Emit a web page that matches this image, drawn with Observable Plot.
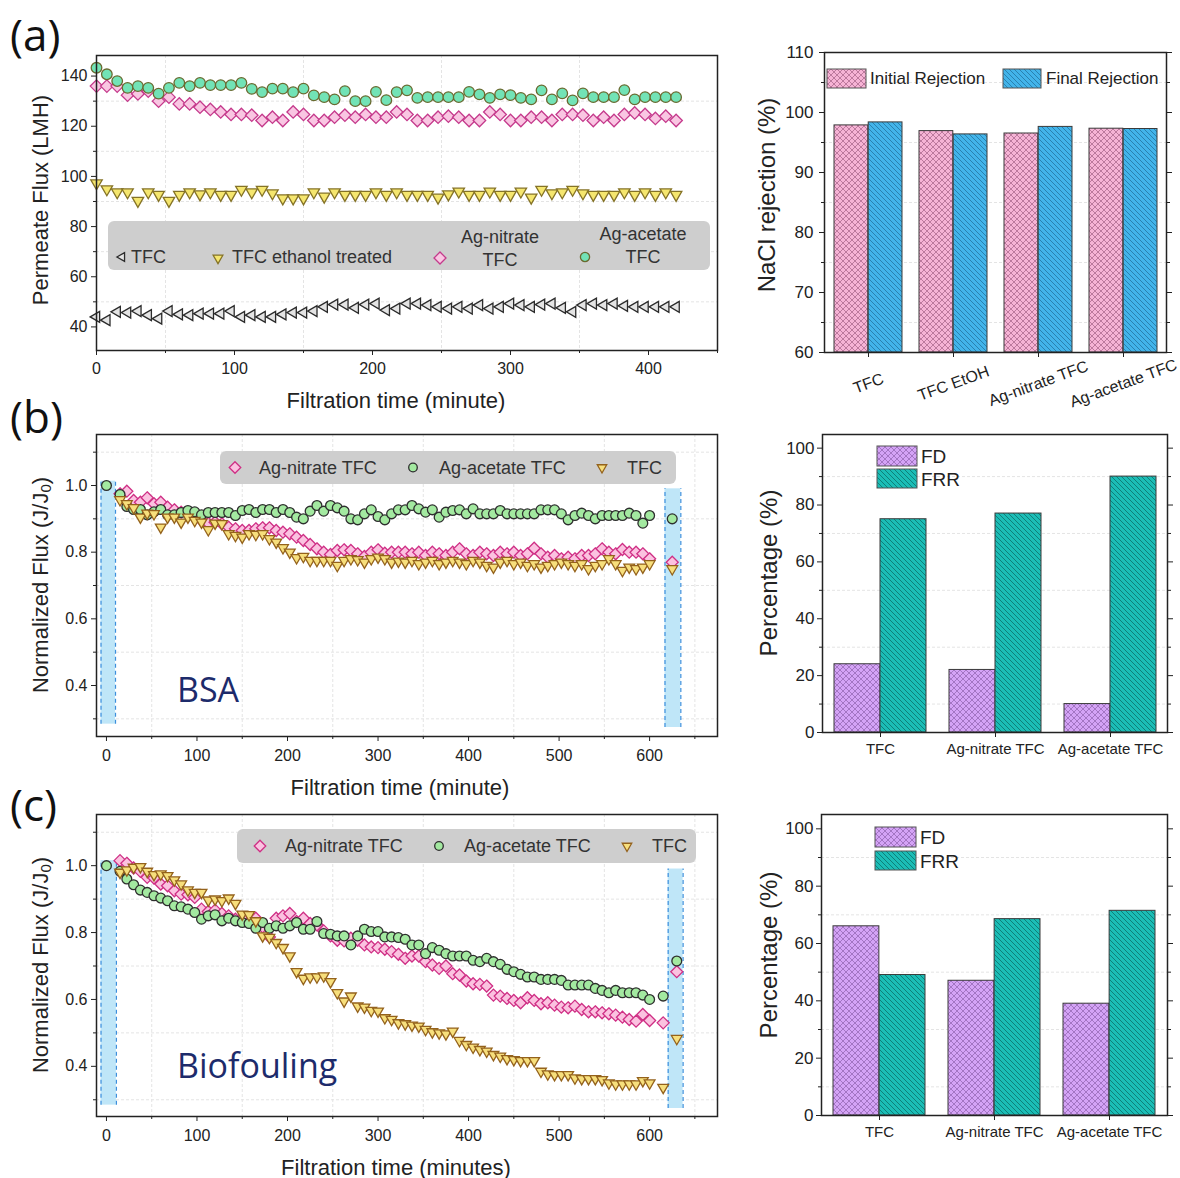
<!DOCTYPE html>
<html><head><meta charset="utf-8">
<script src="https://cdn.jsdelivr.net/npm/d3@7"></script>
<script src="https://cdn.jsdelivr.net/npm/@observablehq/plot@0.6"></script>
<style>
html,body{margin:0;padding:0;background:#fff;}
#root{position:relative;width:1180px;height:1178px;overflow:hidden;background:#fff;}
#root svg{position:absolute;}
</style></head><body>
<svg width="0" height="0" style="position:absolute;left:0;top:0">
 <defs>
  <pattern id="pinkX" patternUnits="userSpaceOnUse" width="6" height="6">
   <rect width="6" height="6" fill="#f6b3d5"/>
   <path d="M0,0L6,6M6,0L0,6" stroke="#ad6a8f" stroke-width="0.8"/>
  </pattern>
  <pattern id="blueDiag" patternUnits="userSpaceOnUse" width="5" height="5">
   <rect width="5" height="5" fill="#42b4ea"/>
   <path d="M0,0L5,5M-1,4L1,6M4,-1L6,1" stroke="#24739f" stroke-width="0.8"/>
  </pattern>
  <pattern id="purpleX" patternUnits="userSpaceOnUse" width="6" height="6">
   <rect width="6" height="6" fill="#d4a3f6"/>
   <path d="M0,0L6,6M6,0L0,6" stroke="#8e62ae" stroke-width="0.7"/>
  </pattern>
  <pattern id="tealDiag" patternUnits="userSpaceOnUse" width="5" height="5">
   <rect width="5" height="5" fill="#1bbdb6"/>
   <path d="M0,0L5,5M-1,4L1,6M4,-1L6,1" stroke="#0b6e6a" stroke-width="0.8"/>
  </pattern>
 </defs>
</svg>
<div id="root"></div>
<script>
// ---------------- DATA ----------------
// (a) permeate flux, time in minutes
const timeA = [0,7.5,15,22.5,30,37.5,45,52.5,60,67.5,75,82.5,90,97.5,105,112.5,120,127.5,135,142.5,150,157.5,165,172.5,180,187.5,195,202.5,210,217.5,225,232.5,240,247.5,255,262.5,270,277.5,285,292.5,300,307.5,315,322.5,330,337.5,345,352.5,360,367.5,375,382.5,390,397.5,405,412.5,420];
const fluxTFC = [44,42.7,46,45.7,46.3,44.7,43.3,46.3,45,44.7,45.3,45.3,45.3,46.3,44,44.7,44,44,45,45.7,45.7,46.3,48,48.9,48.9,47.6,48.9,49.3,46.7,47.3,
  49.3,49.3,48.7,48,47.3,48,47.3,48.7,47.3,48,49.3,48.7,48,48.9,49.3,47.6,46,48.7,49.3,48.7,49.3,48.4,48,48,48,48,48];
const fluxEtOH = [97.3,94.9,93.7,93.7,90.3,93.7,92.7,90.3,92.7,93.7,92.9,93.7,92.7,92.7,94.7,93.7,94.7,93.3,91.3,91.3,91.3,93.7,92,93.7,92.7,92.7,92.7,93.7,92.7,93.7,
  92.7,92.7,92.7,91.6,92.9,94,92.7,92.7,94,92.7,92.7,94,91.6,94.7,93.3,93.7,94.7,93.3,92.7,92.7,92.7,93.7,92.7,93.7,92.7,93.7,92.7];
const fluxNitrate = [136,136,136,132.4,132.9,134,130,131.6,128.9,128.9,127.6,126.7,125.7,124.7,124.7,124.4,122.3,123.6,122.3,125.7,124.7,122.3,122.3,123.6,124.4,123.6,124.7,123.6,123.6,125.7,
  124.7,122.3,122.3,123.6,124,123.6,122.3,122.3,125.7,124.7,122.3,122.3,123.6,123.6,122.3,124.7,124.7,124.4,122.3,123.6,122.3,124.7,125.3,124.7,123.1,124,122.3];
const fluxAcetate = [143.3,140.7,138,135.3,136,135.3,133,135.3,137.3,136,137.3,136.4,136.4,136.4,137.3,134.9,133.6,135,135,133.6,135,132.3,131.6,130.7,134,130,130,133.7,130.4,133.6,
  134.3,131.3,131.6,131.6,131.6,131.6,133.7,132.7,131.3,132.7,132.4,131.3,130.7,134.3,130.7,133.1,130.3,133.1,131.6,131.6,131.6,134.4,130.7,131.6,131.6,131.6,131.6];

// (a) NaCl rejection
const rejCats = ["TFC","TFC EtOH","Ag-nitrate TFC","Ag-acetate TFC"];
const rejInitial = [97.85,96.9,96.5,97.3];
const rejFinal = [98.35,96.35,97.6,97.25];

// (b),(c) normalized flux; regular run times
const runTimes = [15,22.5,30,37.5,45,52.5,60,67.5,75,82.5,90,97.5,105,112.5,120,127.5,135,142.5,150,157.5,
  165,172.5,180,187.5,195,202.5,210,217.5,225,232.5,240,247.5,255,262.5,270,277.5,285,292.5,300,307.5,
  315,322.5,330,337.5,345,352.5,360,367.5,375,382.5,390,397.5,405,412.5,420,427.5,435,442.5,450,457.5,
  465,472.5,480,487.5,495,502.5,510,517.5,525,532.5,540,547.5,555,562.5,570,577.5,585,592.5,600];
const bsaTime = [0, ...runTimes, 625];
const bsaNitrate = [null,
  0.975,0.983,0.955,0.95,0.963,0.945,0.95,0.935,0.927,0.92,0.915,0.905,0.895,0.887,0.89,0.885,0.875,0.87,0.865,0.865,
  0.87,0.873,0.873,0.865,0.86,0.855,0.845,0.835,0.823,0.81,0.8,0.793,0.805,0.807,0.805,0.795,0.787,0.8,0.807,0.797,0.8,0.8,
  0.8,0.795,0.8,0.79,0.8,0.795,0.79,0.8,0.81,0.795,0.79,0.8,0.795,0.79,0.8,0.795,0.8,0.79,0.795,0.812,
  0.795,0.785,0.79,0.78,0.785,0.78,0.79,0.79,0.795,0.81,0.8,0.795,0.808,0.8,0.8,0.795,0.78,
  0.77];
const bsaAcetate = [1.0,
  0.973,0.937,0.928,0.928,0.912,0.921,0.928,0.912,0.912,0.919,0.925,0.921,0.912,0.919,0.919,0.919,0.919,0.91,0.925,0.928,
  0.919,0.928,0.928,0.919,0.928,0.919,0.905,0.9,0.923,0.94,0.923,0.94,0.933,0.923,0.9,0.897,0.915,0.927,0.907,0.897,0.915,0.927,
  0.927,0.94,0.93,0.92,0.927,0.905,0.92,0.925,0.927,0.915,0.93,0.915,0.915,0.915,0.925,0.915,0.915,0.915,0.915,0.915,
  0.927,0.927,0.927,0.915,0.897,0.91,0.917,0.91,0.9,0.91,0.91,0.91,0.91,0.917,0.91,0.887,0.91,
  0.90];
const bsaTFC = [null,
  0.957,0.945,0.933,0.905,0.917,0.915,0.875,0.905,0.905,0.89,0.905,0.895,0.89,0.867,0.887,0.885,0.855,0.85,0.845,0.855,
  0.853,0.855,0.84,0.83,0.813,0.8,0.783,0.787,0.775,0.775,0.775,0.775,0.76,0.775,0.78,0.777,0.77,0.78,0.785,0.78,0.77,0.773,
  0.77,0.775,0.765,0.77,0.775,0.765,0.77,0.775,0.77,0.765,0.775,0.77,0.76,0.755,0.77,0.775,0.765,0.77,0.76,0.765,
  0.755,0.76,0.765,0.77,0.765,0.76,0.765,0.75,0.76,0.765,0.78,0.765,0.745,0.755,0.75,0.755,0.765,
  0.75];
const bioTime = [0, ...runTimes, 615, 630];
const bioNitrate = [null,
  1.015,1.007,0.993,0.983,0.965,0.963,0.945,0.94,0.925,0.915,0.913,0.905,0.87,0.863,0.867,0.857,0.85,0.84,0.843,0.833,
  0.843,0.817,0.787,0.843,0.85,0.857,0.833,0.843,0.827,0.823,0.805,0.79,0.777,0.775,0.783,0.777,0.763,0.757,0.755,0.75,0.743,0.735,
  0.723,0.73,0.73,0.713,0.703,0.693,0.7,0.677,0.673,0.655,0.647,0.645,0.64,0.613,0.61,0.603,0.597,0.59,0.605,0.597,
  0.587,0.59,0.583,0.577,0.575,0.58,0.57,0.563,0.563,0.56,0.557,0.553,0.547,0.54,0.535,0.555,0.537,
  0.53,0.683];
const bioAcetate = [1.0,
  0.983,0.96,0.943,0.927,0.92,0.91,0.903,0.895,0.88,0.877,0.87,0.86,0.84,0.85,0.853,0.835,0.843,0.835,0.83,0.827,
  0.813,0.83,0.813,0.82,0.813,0.82,0.83,0.81,0.81,0.833,0.797,0.795,0.79,0.79,0.763,0.79,0.81,0.803,0.803,0.787,0.787,0.785,
  0.78,0.763,0.763,0.737,0.755,0.747,0.737,0.73,0.73,0.73,0.717,0.713,0.723,0.713,0.705,0.69,0.683,0.675,0.667,0.667,
  0.66,0.66,0.66,0.657,0.643,0.643,0.643,0.643,0.633,0.627,0.62,0.627,0.62,0.62,0.62,0.613,0.6,
  0.61,0.715];
const bioTFC = [null,
  0.98,0.987,0.995,0.997,0.983,0.973,0.975,0.97,0.957,0.945,0.927,0.92,0.92,0.897,0.9,0.895,0.903,0.887,0.855,0.853,
  0.835,0.79,0.785,0.77,0.755,0.73,0.683,0.663,0.667,0.667,0.67,0.653,0.62,0.595,0.61,0.58,0.577,0.567,0.565,0.545,0.54,0.53,
  0.527,0.523,0.52,0.51,0.503,0.5,0.497,0.505,0.477,0.465,0.457,0.45,0.445,0.435,0.43,0.423,0.42,0.417,0.417,0.417,
  0.385,0.377,0.375,0.375,0.375,0.365,0.363,0.363,0.363,0.36,0.35,0.347,0.347,0.347,0.347,0.357,0.35,
  0.337,0.483];
// cleaning-step shaded bands (minutes, normalized flux)
const bsaBands = [{x1:-6,x2:10,y1:0.284,y2:1.013},{x1:617,x2:634.5,y1:0.274,y2:0.99}];
const bioBands = [{x1:-6,x2:11,y1:0.284,y2:1.015},{x1:620.5,x2:637,y1:0.274,y2:0.99}];

// fouling bar charts
const foulCats = ["TFC","Ag-nitrate TFC","Ag-acetate TFC"];
const bsaFD = [24,22,10];
const bsaFRR = [75,77,90];
const bioFD = [66,47,39];
const bioFRR = [49,68.5,71.4];

// ---------------- SYMBOLS ----------------
const rOf = size => Math.sqrt(size/Math.PI);
const symDiamond = {draw(c,size){const d=rOf(size)*1.2;c.moveTo(0,-d);c.lineTo(d,0);c.lineTo(0,d);c.lineTo(-d,0);c.closePath();}};
const symTriDown = {draw(c,size){const s=rOf(size)*2.2;const a=s/(2*Math.sqrt(3));c.moveTo(-s/2,-a);c.lineTo(s/2,-a);c.lineTo(0,2*a);c.closePath();}};
const symTriLeft = {draw(c,size){const s=rOf(size)*2.1;const a=s/(2*Math.sqrt(3));c.moveTo(-2*a,0);c.lineTo(a,-s/2);c.lineTo(a,s/2);c.closePath();}};
const symCircle = d3.symbolCircle;

const FF = '"Liberation Sans", Arial, Helvetica, sans-serif';
const root = document.getElementById("root");
const plotStyle = {fontFamily: FF, color: "#222", background: "transparent", overflow: "visible"};
const gridStyle = {stroke: "#e4e4e4", strokeDasharray: "3,2", strokeWidth: 1};

function place(svg, left, top){ svg.style.left = left+"px"; svg.style.top = top+"px"; root.appendChild(svg); }

function scatter(o){
  const marks = [
    Plot.ruleX(o.xGrid, gridStyle),
    Plot.ruleY(o.yGrid, gridStyle)
  ];
  if (o.bands){
    marks.push(Plot.rect(o.bands, {x1:"x1", x2:"x2", y1:"y1", y2:"y2", fill:"#bfe6f8"}));
    marks.push(Plot.ruleX(o.bands, {x:"x1", y1:"y1", y2:"y2", stroke:"#3d8fdc", strokeDasharray:"4,3", strokeWidth:1.2}));
    marks.push(Plot.ruleX(o.bands, {x:"x2", y1:"y1", y2:"y2", stroke:"#3d8fdc", strokeDasharray:"4,3", strokeWidth:1.2}));
  }
  for (const s of o.series){
    const rows = o.time.map((t,i)=>({t, v:s.values[i]})).filter(d=>d.v!=null);
    marks.push(Plot.dot(rows, {x:"t", y:"v", symbol:s.symbol, r:s.r, fill:s.fill, stroke:s.stroke, strokeWidth:1.3}));
  }
  marks.push(Plot.frame({stroke:"#222", strokeWidth:1.5}));
  marks.push(Plot.axisX(o.xMajor, {tickSize:5, tickPadding:o.xPad, fontSize:16, label:null}));
  marks.push(Plot.axisX(o.xMinor, {tickSize:3, tickFormat:()=> "", label:null}));
  marks.push(Plot.axisY(o.yMajor, {tickSize:5, tickPadding:4, fontSize:16, label:null, tickFormat:o.yFmt}));
  marks.push(Plot.axisY(o.yMinor, {tickSize:3, tickFormat:()=> "", label:null}));
  const svg = Plot.plot({
    width:o.width, height:o.height,
    marginLeft:o.mL, marginRight:o.mR, marginTop:o.mT, marginBottom:o.mB,
    x:{domain:o.xDomain}, y:{domain:o.yDomain},
    style: plotStyle, marks
  });
  place(svg, o.left, o.top);
}

function bars(o){
  const rows = o.cats.map((c,i)=>({cat:c, a:o.s1[i], b:o.s2[i]}));
  const plotW = o.width - o.mL - o.mR;
  const step = plotW / o.cats.length;
  const half = step*0.8/2;
  const y0 = o.yDomain[0];
  const marks = [
    Plot.ruleY(o.yGrid, gridStyle),
    Plot.barY(rows, {x:"cat", y1:y0, y2:"a", fill:o.fill1, stroke:"#3a3a3a", strokeWidth:1, insetLeft:0, insetRight:half}),
    Plot.barY(rows, {x:"cat", y1:y0, y2:"b", fill:o.fill2, stroke:"#3a3a3a", strokeWidth:1, insetLeft:half, insetRight:0}),
    Plot.frame({stroke:"#222", strokeWidth:1.5}),
    Plot.axisY(o.yMajor, {tickSize:5, tickPadding:o.yPad, fontSize:17, label:null}),
    Plot.axisY(o.yMinor, {tickSize:3, tickFormat:()=> "", label:null}),
    Plot.axisY(o.yMajor, {anchor:"right", tickSize:5, tickFormat:()=> "", label:null}),
    Plot.axisY(o.yMinor, {anchor:"right", tickSize:3, tickFormat:()=> "", label:null}),
    Plot.axisX(o.cats, {tickSize:5, tickFormat:()=> "", label:null}),
    Plot.text(o.cats, {x:d=>d, frameAnchor:"bottom", dy:o.labelDy, rotate:o.rotate, fontSize:o.labelSize, textAnchor:"middle", lineAnchor:"middle", fill:"#222"})
  ];
  const svg = Plot.plot({
    width:o.width, height:o.height,
    marginLeft:o.mL, marginRight:o.mR, marginTop:o.mT, marginBottom:o.mB,
    x:{domain:o.cats, paddingInner:0.2, paddingOuter:0.1},
    y:{domain:o.yDomain},
    style: plotStyle, marks
  });
  place(svg, o.left, o.top);
}

// ---------------- PANELS ----------------
// (a) left
scatter({left:0, top:0, width:720, height:400, mL:96, mR:3, mT:55, mB:50,
  xDomain:[0,450], yDomain:[30.6,148.2],
  xMajor:[0,100,200,300,400], xMinor:[50,150,250,350,450], xGrid:[50,150,250,350],
  yMajor:[40,60,80,100,120,140], yMinor:[50,70,90,110,130], yGrid:[50,70,90,110,130],
  yFmt: d3.format("d"), xPad:7, time:timeA,
  series:[
    {values:fluxTFC, symbol:symTriLeft, r:5.2, fill:"#e4e4e4", stroke:"#2b2b2b"},
    {values:fluxEtOH, symbol:symTriDown, r:5.2, fill:"#f5e66e", stroke:"#857326"},
    {values:fluxNitrate, symbol:symDiamond, r:5.2, fill:"#f9c6e2", stroke:"#c53a8c"},
    {values:fluxAcetate, symbol:symCircle, r:5.3, fill:"#72e3b6", stroke:"#6a6a30"}
  ]});
// (b) left
scatter({left:0, top:400, width:720, height:400, mL:96, mR:3, mT:34, mB:64,
  xDomain:[-11,675], yDomain:[0.247,1.153],
  xMajor:[0,100,200,300,400,500,600], xMinor:[50,150,250,350,450,550,650], xGrid:[50,150,250,350,450,550,650],
  yMajor:[0.4,0.6,0.8,1.0], yMinor:[0.3,0.5,0.7,0.9,1.1], yGrid:[0.3,0.5,0.7,0.9,1.1],
  yFmt: d3.format(".1f"), xPad:8, time:bsaTime, bands:bsaBands,
  series:[
    {values:bsaNitrate, symbol:symDiamond, r:5, fill:"#fbc2e0", stroke:"#cf2f85"},
    {values:bsaAcetate, symbol:symCircle, r:4.9, fill:"#a3e9a0", stroke:"#2e2e2e"},
    {values:bsaTFC, symbol:symTriDown, r:4.9, fill:"#f7df7c", stroke:"#94621c"}
  ]});
// (c) left
scatter({left:0, top:780, width:720, height:398, mL:96, mR:3, mT:34, mB:62,
  xDomain:[-11,675], yDomain:[0.25,1.153],
  xMajor:[0,100,200,300,400,500,600], xMinor:[50,150,250,350,450,550,650], xGrid:[50,150,250,350,450,550,650],
  yMajor:[0.4,0.6,0.8,1.0], yMinor:[0.3,0.5,0.7,0.9,1.1], yGrid:[0.3,0.5,0.7,0.9,1.1],
  yFmt: d3.format(".1f"), xPad:8, time:bioTime, bands:bioBands,
  series:[
    {values:bioNitrate, symbol:symDiamond, r:5, fill:"#fbc2e0", stroke:"#cf2f85"},
    {values:bioAcetate, symbol:symCircle, r:4.9, fill:"#a3e9a0", stroke:"#2e2e2e"},
    {values:bioTFC, symbol:symTriDown, r:4.9, fill:"#f7df7c", stroke:"#94621c"}
  ]});
// (a) right
bars({left:720, top:0, width:460, height:420, mL:104, mR:14, mT:52, mB:68,
  cats:rejCats, s1:rejInitial, s2:rejFinal, fill1:"url(#pinkX)", fill2:"url(#blueDiag)",
  yDomain:[60,110], yMajor:[60,70,80,90,100,110], yMinor:[65,75,85,95,105], yGrid:[65,75,85,95,105],
  yPad:6, labelDy:31, rotate:-20, labelSize:16});
// (b) right
bars({left:720, top:400, width:460, height:400, mL:102, mR:13, mT:34, mB:68,
  cats:foulCats, s1:bsaFD, s2:bsaFRR, fill1:"url(#purpleX)", fill2:"url(#tealDiag)",
  yDomain:[0,104.8], yMajor:[0,20,40,60,80,100], yMinor:[10,30,50,70,90], yGrid:[10,30,50,70,90],
  yPad:3, labelDy:16.5, rotate:0, labelSize:15});
// (c) right
bars({left:720, top:780, width:460, height:398, mL:101, mR:13, mT:34, mB:63,
  cats:foulCats, s1:bioFD, s2:bioFRR, fill1:"url(#purpleX)", fill2:"url(#tealDiag)",
  yDomain:[0,105], yMajor:[0,20,40,60,80,100], yMinor:[10,30,50,70,90], yGrid:[10,30,50,70,90],
  yPad:3, labelDy:16.5, rotate:0, labelSize:15});

// ---------------- OVERLAY: labels, titles, legends ----------------
const ov = d3.create("svg").attr("width",1180).attr("height",1178)
  .style("left","0px").style("top","0px").attr("font-family", FF);
root.appendChild(ov.node());
function txt(x,y,s,o={}){
  const t = ov.append("text").attr("x",x).attr("y",y)
    .attr("font-size",o.size||18).attr("fill",o.fill||"#222")
    .attr("text-anchor",o.anchor||"start").attr("dominant-baseline","central")
    .text(s);
  if (o.family) t.attr("font-family",o.family);
  if (o.rot) t.attr("transform",`rotate(${o.rot},${x},${y})`);
  return t;
}
function mk(x,y,sym,r,fill,stroke){
  ov.append("path").attr("transform",`translate(${x},${y})`)
    .attr("d", d3.symbol(sym, Math.PI*r*r)()).attr("fill",fill).attr("stroke",stroke).attr("stroke-width",1.3);
}
function swatch(x,y,w,h,fill){
  ov.append("rect").attr("x",x).attr("y",y).attr("width",w).attr("height",h).attr("fill",fill).attr("stroke","#555").attr("stroke-width",1);
}
const OS = '"Open Sans", "Noto Sans", sans-serif';
// panel letters
txt(10,34,"(a)",{size:44,family:OS,fill:"#111"});
txt(10,416,"(b)",{size:44,family:OS,fill:"#111"});
txt(10,804,"(c)",{size:44,family:OS,fill:"#111"});
// in-plot annotations
txt(177,689,"BSA",{size:34,family:OS,fill:"#1d2b6b"});
txt(177,1065,"Biofouling",{size:34,family:OS,fill:"#1d2b6b"});

// axis titles
txt(396,400,"Filtration time (minute)",{size:22,anchor:"middle"});
txt(400,787,"Filtration time (minute)",{size:22,anchor:"middle"});
txt(396,1167,"Filtration time (minutes)",{size:22,anchor:"middle"});
txt(40,200,"Permeate Flux (LMH)",{size:22,anchor:"middle",rot:-90});
function normTitle(x,y){
  const t = txt(x,y,"",{size:22,anchor:"middle",rot:-90});
  t.append("tspan").text("Normalized Flux (J/J");
  t.append("tspan").attr("font-size",15).attr("dy",5).text("0");
  t.append("tspan").attr("dy",-5).text(")");
}
normTitle(40,585);
normTitle(40,965);
txt(766,195,"NaCl rejection (%)",{size:24,anchor:"middle",rot:-90});
txt(768,573,"Percentage (%)",{size:24,anchor:"middle",rot:-90});
txt(768,955,"Percentage (%)",{size:24,anchor:"middle",rot:-90});

// legend (a) left
ov.append("rect").attr("x",108).attr("y",221).attr("width",602).attr("height",49).attr("rx",6).attr("fill","#cecece");
mk(122,257,symTriLeft,4.2,"#e4e4e4","#2b2b2b");
txt(131,257,"TFC",{size:18,fill:"#333"});
mk(218,258,symTriDown,4.4,"#f5e66e","#857326");
txt(232,257,"TFC ethanol treated",{size:18,fill:"#333"});
mk(440,258,symDiamond,5,"#f9c6e2","#c53a8c");
txt(500,237,"Ag-nitrate",{size:18,anchor:"middle",fill:"#333"});
txt(500,260,"TFC",{size:18,anchor:"middle",fill:"#333"});
mk(585,257,symCircle,4.6,"#72e3b6","#6a6a30");
txt(643,234,"Ag-acetate",{size:18,anchor:"middle",fill:"#333"});
txt(643,257,"TFC",{size:18,anchor:"middle",fill:"#333"});

// legends (b), (c) left
function lineLegend(x0,y0,w,h,items){
  ov.append("rect").attr("x",x0).attr("y",y0).attr("width",w).attr("height",h).attr("rx",6).attr("fill","#cecece");
  const cy = y0+h/2;
  for (const it of items){ mk(it.mx,cy,it.sym,it.r,it.fill,it.stroke); txt(it.tx,cy,it.label,{size:18,fill:"#333"}); }
}
lineLegend(220,451,456,33,[
  {mx:235,tx:259,label:"Ag-nitrate TFC",sym:symDiamond,r:4.8,fill:"#fbc2e0",stroke:"#cf2f85"},
  {mx:413,tx:439,label:"Ag-acetate TFC",sym:symCircle,r:4.3,fill:"#a3e9a0",stroke:"#2e2e2e"},
  {mx:602,tx:627,label:"TFC",sym:symTriDown,r:4.3,fill:"#f7df7c",stroke:"#94621c"}]);
lineLegend(237,829,459,34,[
  {mx:260,tx:285,label:"Ag-nitrate TFC",sym:symDiamond,r:4.8,fill:"#fbc2e0",stroke:"#cf2f85"},
  {mx:439,tx:464,label:"Ag-acetate TFC",sym:symCircle,r:4.3,fill:"#a3e9a0",stroke:"#2e2e2e"},
  {mx:627,tx:652,label:"TFC",sym:symTriDown,r:4.3,fill:"#f7df7c",stroke:"#94621c"}]);

// bar legends
swatch(827,69,39,19,"url(#pinkX)"); txt(870,78.5,"Initial Rejection",{size:17});
swatch(1003,69,38,19,"url(#blueDiag)"); txt(1046,78.5,"Final Rejection",{size:17});
swatch(877,446,40,20,"url(#purpleX)"); txt(921,456,"FD",{size:19});
swatch(877,469,40,19,"url(#tealDiag)"); txt(921,479,"FRR",{size:19});
swatch(875,827,41,20,"url(#purpleX)"); txt(920,837,"FD",{size:19});
swatch(875,851,41,19,"url(#tealDiag)"); txt(920,861,"FRR",{size:19});
</script>
</body></html>
